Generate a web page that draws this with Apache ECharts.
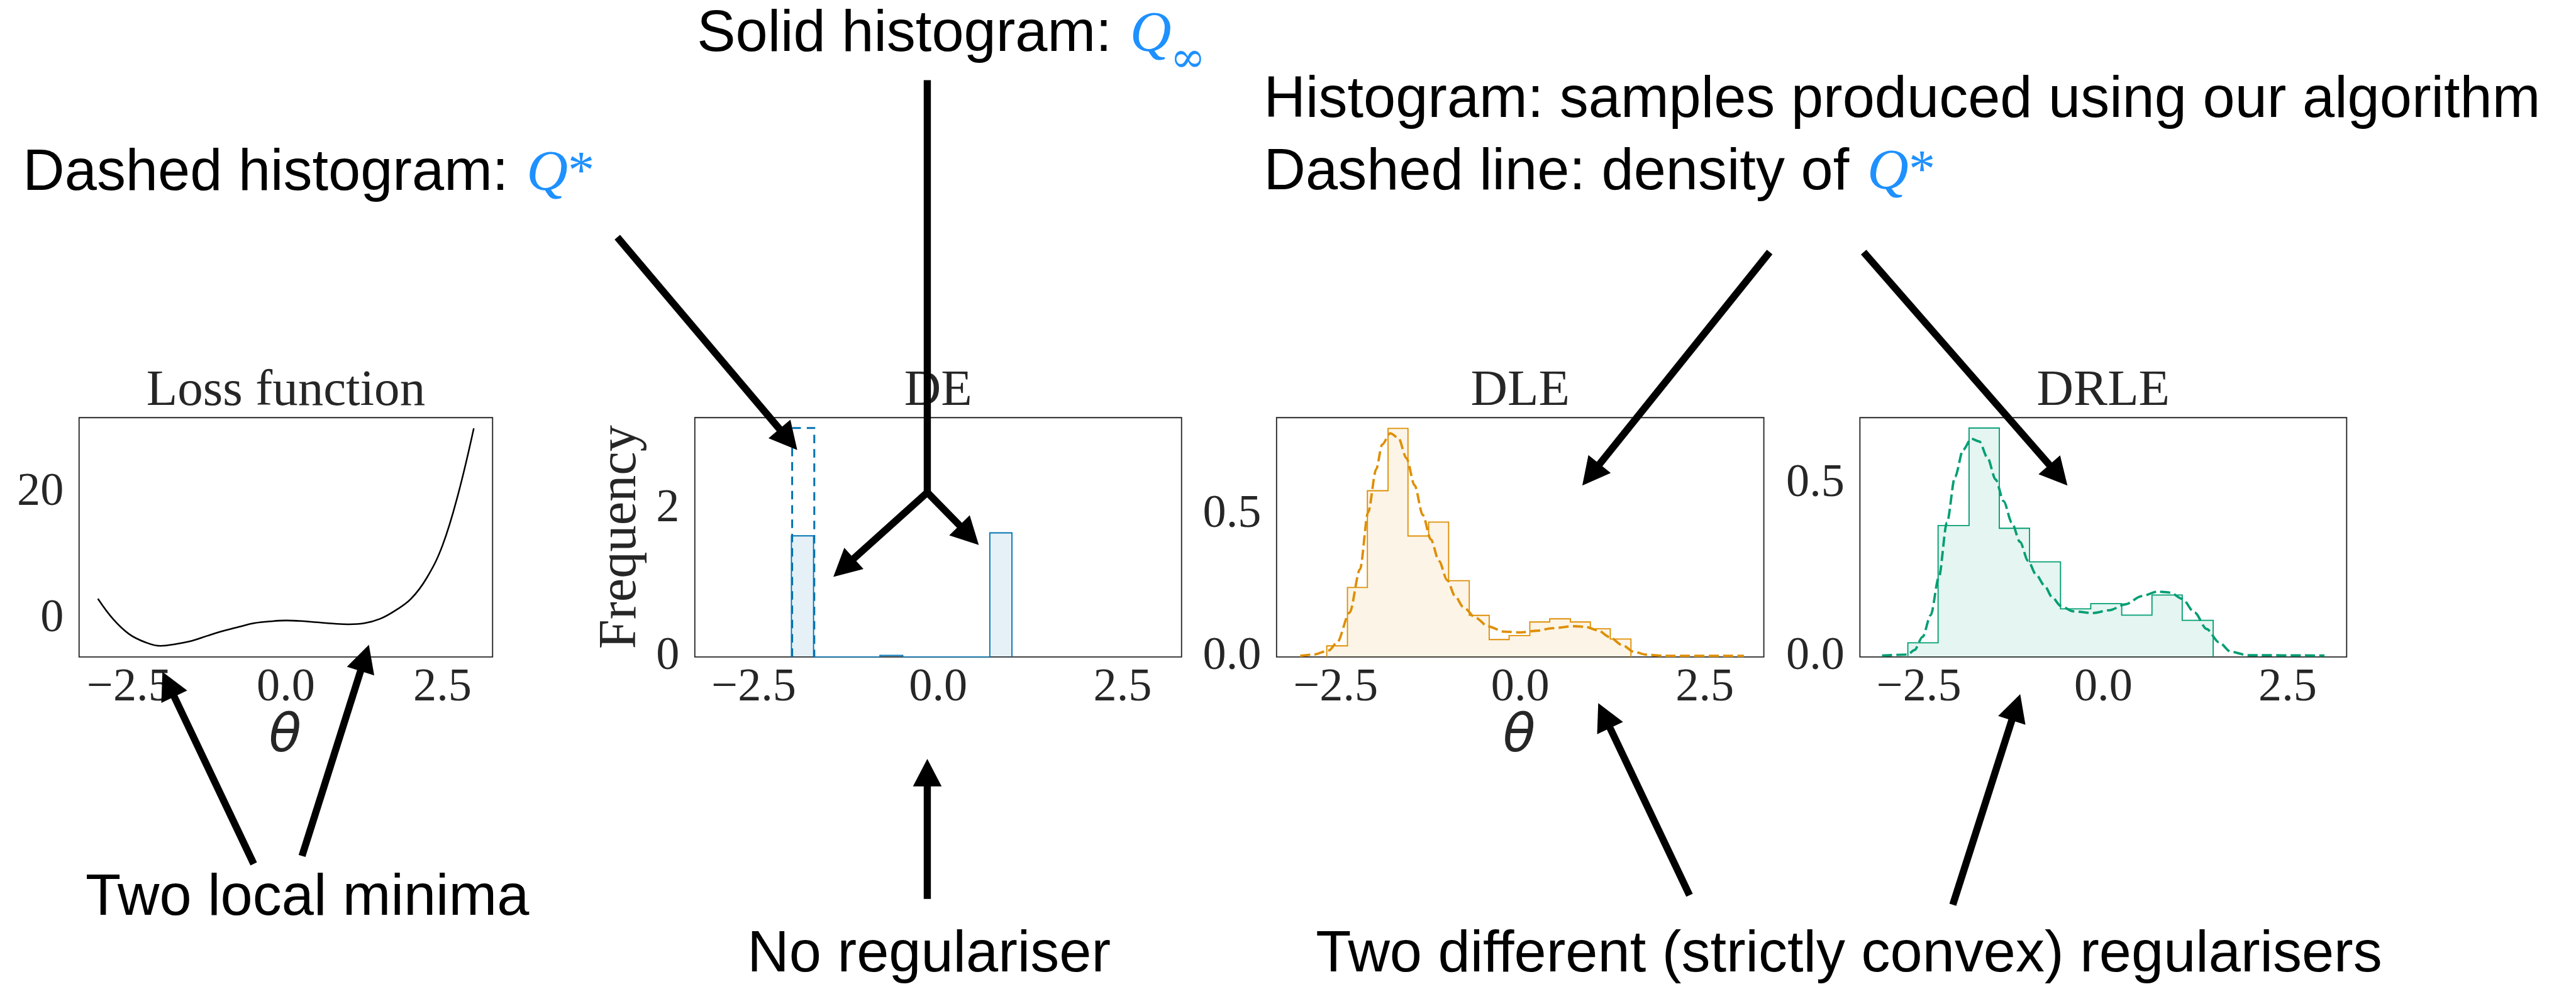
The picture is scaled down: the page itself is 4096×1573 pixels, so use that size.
<!DOCTYPE html>
<html>
<head>
<meta charset="utf-8">
<script src="https://cdn.jsdelivr.net/npm/echarts@6/dist/echarts.min.js"></script>
<style>
html, body { margin: 0; padding: 0; background: #fff; }
#chart { width: 4096px; height: 1573px; }
</style>
</head>
<body>
<div id="chart"></div>
<script>
// values
var xTicks = [-2.5, 0, 2.5];
var lossYTicks = [0, 20];
var deYTicks = [0, 2];
var densYTicks = [0, 0.5];

// loss function
var lossTheta = [-3, -2.75, -2.5, -2.25, -2, -1.75, -1.5, -1.25, -1, -0.75, -0.5, -0.25, 0,
                 0.25, 0.5, 0.75, 1, 1.25, 1.5, 1.75, 2, 2.25, 2.5, 2.75, 3];
var lossValues = [3.2, -0.1, -2.4, -3.65, -4.25, -3.95, -3.45, -2.65, -1.9, -1.25, -0.65, -0.38, -0.24,
                  -0.33, -0.53, -0.72, -0.84, -0.68, 0.0, 1.35, 3.2, 6.5, 11.6, 19.7, 30.1];

// DE: solid histogram (Q_inf) and dashed histogram (Q*)
var deEdges = [-1.99, -1.69, -1.39, -1.09, -0.79, -0.48, -0.19, 0.11, 0.41, 0.70, 1.00];
var deHeights = [1.64, 0, 0, 0, 0.02, 0, 0, 0, 0, 1.68];
var deStarEdges = [-1.98, -1.68];
var deStarHeights = [3.10];

// DLE
var dleEdges = [-2.62, -2.34, -2.07, -1.79, -1.52, -1.24, -0.97, -0.69, -0.42, -0.15, 0.13, 0.40, 0.68, 0.95, 1.22, 1.50];
var dleHeights = [0.039, 0.244, 0.584, 0.803, 0.425, 0.474, 0.268, 0.146, 0.061, 0.075, 0.123, 0.134, 0.123, 0.099, 0.063];
var dleDensX = [-2.98, -2.8, -2.59, -2.48, -2.31, -2.17, -2.06, -1.95, -1.87, -1.76, -1.65, -1.54, -1.43, -1.32, -1.21,
                -1.10, -0.99, -0.88, -0.77, -0.60, -0.44, -0.22, 0.0, 0.22, 0.44, 0.72, 0.88, 1.05, 1.21, 1.38,
                1.54, 1.71, 1.93, 3.03];
var dleDensY = [0.004, 0.008, 0.023, 0.051, 0.156, 0.308, 0.508, 0.660, 0.746, 0.786, 0.770, 0.698, 0.603, 0.499, 0.413,
                0.337, 0.270, 0.213, 0.175, 0.137, 0.108, 0.089, 0.086, 0.092, 0.101, 0.108, 0.106, 0.094, 0.070, 0.042,
                0.018, 0.008, 0.004, 0.004];

// DRLE
var drleEdges = [-2.65, -2.24, -1.82, -1.41, -1.00, -0.58, -0.17, 0.25, 0.66, 1.07, 1.49];
var drleHeights = [0.041, 0.380, 0.662, 0.372, 0.275, 0.139, 0.154, 0.121, 0.179, 0.106];
var drleDensX = [-3.0, -2.65, -2.56, -2.45, -2.34, -2.23, -2.12, -2.01, -1.90, -1.79, -1.68, -1.57, -1.46, -1.35, -1.24,
                 -1.13, -1.02, -0.91, -0.80, -0.69, -0.58, -0.41, -0.14, 0.08, 0.30, 0.52, 0.74, 0.91, 1.07, 1.24,
                 1.40, 1.57, 1.73, 1.96, 3.0];
var drleDensY = [0.004, 0.007, 0.020, 0.058, 0.121, 0.230, 0.388, 0.521, 0.599, 0.631, 0.623, 0.576, 0.513, 0.450, 0.388,
                 0.333, 0.278, 0.238, 0.207, 0.172, 0.148, 0.132, 0.127, 0.135, 0.152, 0.176, 0.189, 0.186, 0.168, 0.128,
                 0.081, 0.042, 0.015, 0.005, 0.004];

var S = 0.844; // reference px -> window px
var SERIF = '"Liberation Serif", "Times New Roman", serif';
var SANS = '"Liberation Sans", Arial, Helvetica, sans-serif';
var INK = '#262626';
var QBLUE = '#1e90ff';
var BLUE = '#0173b2', ORANGE = '#de8f05', GREEN = '#029e73';

function zip(xs, ys) {
  return xs.map(function (x, i) { return [x, ys[i]]; });
}
function stepPoints(edges, heights) {
  var pts = [[edges[0], 0]];
  for (var i = 0; i < heights.length; i++) {
    pts.push([edges[i], heights[i]]);
    pts.push([edges[i + 1], heights[i]]);
  }
  pts.push([edges[edges.length - 1], 0]);
  return pts;
}
function fmtX(v) {
  return v < 0 ? '\u2212' + Math.abs(v).toFixed(1) : v.toFixed(1);
}

// panel boxes, reference px
var boxes = [
  { left: 149, width: 779 },
  { left: 1309, width: 917 },
  { left: 2405, width: 918 },
  { left: 3504, width: 917 }
];
var grids = boxes.map(function (b) {
  return {
    left: b.left * S, top: 787 * S, width: b.width * S, height: 451 * S,
    show: true, borderColor: INK, borderWidth: 2.2 * S, backgroundColor: 'transparent',
    containLabel: false, outerBoundsMode: 'none'
  };
});

var xAxes = boxes.map(function (b, i) {
  return {
    type: 'value', gridIndex: i, min: -3.3, max: 3.3,
    axisLine: { show: false }, axisTick: { show: false }, splitLine: { show: false },
    axisLabel: {
      customValues: xTicks, formatter: fmtX, margin: 15 * S,
      fontFamily: SERIF, fontSize: 88 * S, color: INK
    }
  };
});

var yRanges = [[-6, 31.8], [0, 3.24], [0, 0.841], [0, 0.692]];
var yTickSets = [lossYTicks, deYTicks, densYTicks, densYTicks];
var yFmts = [
  function (v) { return String(v); },
  function (v) { return String(v); },
  function (v) { return v.toFixed(1); },
  function (v) { return v.toFixed(1); }
];
var yAxes = yRanges.map(function (r, i) {
  return {
    type: 'value', gridIndex: i, min: r[0], max: r[1],
    axisLine: { show: false }, axisTick: { show: false }, splitLine: { show: false },
    axisLabel: {
      customValues: yTickSets[i], formatter: yFmts[i], margin: 29 * S,
      fontFamily: SERIF, fontSize: 88 * S, color: INK
    }
  };
});

function lineSeries(idx, data, color, width, opts) {
  var s = {
    type: 'line', xAxisIndex: idx, yAxisIndex: idx, data: data,
    symbol: 'none', showSymbol: false, silent: true,
    lineStyle: { color: color, width: width, cap: 'butt', join: 'miter' }
  };
  for (var k in opts) s[k] = opts[k];
  return s;
}
function fillOf(hex) {
  var n = parseInt(hex.slice(1), 16);
  return 'rgba(' + (n >> 16) + ',' + ((n >> 8) & 255) + ',' + (n & 255) + ',0.1)';
}

var series = [
  lineSeries(0, zip(lossTheta, lossValues), '#000', 3 * S, { smooth: 0.4 }),

  lineSeries(1, stepPoints(deEdges, deHeights), BLUE, 2.2 * S, { areaStyle: { color: fillOf(BLUE), opacity: 1 } }),
  lineSeries(1, stepPoints(deStarEdges, deStarHeights), BLUE, 3.6 * S, {}),

  lineSeries(2, stepPoints(dleEdges, dleHeights), ORANGE, 2.2 * S, { areaStyle: { color: fillOf(ORANGE), opacity: 1 } }),
  lineSeries(2, zip(dleDensX, dleDensY), ORANGE, 4.5 * S, { smooth: 0.3, smoothMonotone: 'x' }),

  lineSeries(3, stepPoints(drleEdges, drleHeights), GREEN, 2.2 * S, { areaStyle: { color: fillOf(GREEN), opacity: 1 } }),
  lineSeries(3, zip(drleDensX, drleDensY), GREEN, 4.5 * S, { smooth: 0.3, smoothMonotone: 'x' })
];
series[2].lineStyle.type = [16 * S, 11 * S];
series[4].lineStyle.type = [19 * S, 8 * S];
series[6].lineStyle.type = [19 * S, 8 * S];

// ---- text and arrows, reference px ----
var ctx = document.createElement('canvas').getContext('2d');
function textWidth(str, size, family, style) {
  ctx.font = (style || 'normal') + ' ' + size + 'px ' + family;
  return ctx.measureText(str).width;
}
function txt(x, y, text, size, family, fill, extra) {
  var el = {
    type: 'text', x: x, y: y, z: 100, silent: true,
    style: { text: text, fontSize: size, fontFamily: family, fill: fill, align: 'left', verticalAlign: 'middle' }
  };
  if (extra) for (var k in extra) el.style[k] = extra[k];
  return el;
}

var graphics = [];

var titles = [['Loss function', 538.5], ['DE', 1767.5], ['DLE', 2864], ['DRLE', 3962.5]];
titles.forEach(function (t) {
  graphics.push(txt(t[1] * S, 738 * S, t[0], 96 * S, SERIF, INK, { align: 'center' }));
});
graphics.push(txt(537 * S, 1390 * S, '\u03b8', 100 * S, '"DejaVu Sans", sans-serif', INK, { align: 'center', fontStyle: 'italic' }));
graphics.push(txt(2862 * S, 1390 * S, '\u03b8', 100 * S, '"DejaVu Sans", sans-serif', INK, { align: 'center', fontStyle: 'italic' }));
var freq = txt(1170 * S, 1012 * S, 'Frequency', 100 * S, SERIF, INK, { align: 'center' });
freq.rotation = Math.PI / 2;
graphics.push(freq);

var notes = [
  { text: 'Solid histogram: ', x: 1313, base: 104, q: 'inf' },
  { text: 'Dashed histogram: ', x: 43, base: 366, q: 'star' },
  { text: 'Histogram: samples produced using our algorithm', x: 2381, base: 228 },
  { text: 'Dashed line: density of ', x: 2381, base: 364, q: 'star' },
  { text: 'Two local minima', x: 161, base: 1732 },
  { text: 'No regulariser', x: 1408, base: 1839 },
  { text: 'Two different (strictly convex) regularisers', x: 2479, base: 1839 }
];
var noteSize = 109 * S, qSize = 108 * S;
notes.forEach(function (n) {
  graphics.push(txt(n.x * S, (n.base - 38) * S, n.text, noteSize, SANS, '#000'));
  if (!n.q) return;
  var qx = n.x * S + textWidth(n.text, noteSize, SANS) + 4 * S;
  graphics.push(txt(qx, (n.base - 37) * S, 'Q', qSize, SERIF, QBLUE, { fontStyle: 'italic' }));
  var qw = textWidth('Q', qSize, SERIF, 'italic');
  if (n.q === 'star') {
    graphics.push(txt(qx + qw, (n.base - 38) * S, '*', 100 * S, SERIF, QBLUE));
  } else {
    graphics.push(txt(qx + qw - 2 * S, (n.base + 10) * S, '\u221e', 80 * S, '"DejaVu Serif", serif', QBLUE));
  }
});

var LW = 13.5 * S, HL = 52 * S, HW = 27 * S;
function seg(x1, y1, x2, y2) {
  return {
    type: 'line', z: 100, silent: true,
    shape: { x1: x1, y1: y1, x2: x2, y2: y2 },
    style: { stroke: '#000', lineWidth: LW, lineCap: 'butt' }
  };
}
function arrow(a, b, c, d) {
  var x1 = a * S, y1 = b * S, x2 = c * S, y2 = d * S;
  var dx = x2 - x1, dy = y2 - y1, len = Math.sqrt(dx * dx + dy * dy);
  var ux = dx / len, uy = dy / len, px = -uy, py = ux;
  var bx = x2 - ux * HL, by = y2 - uy * HL;
  graphics.push(seg(x1, y1, bx + ux * 2, by + uy * 2));
  graphics.push({
    type: 'polygon', z: 100, silent: true,
    shape: { points: [[x2, y2], [bx + px * HW, by + py * HW], [bx - px * HW, by - py * HW]] },
    style: { fill: '#000' }
  });
}

graphics.push(seg(1747 * S, 151 * S, 1747 * S, 930 * S));
arrow(1747, 928, 1570, 1087);
arrow(1747, 928, 1844, 1027);
arrow(1163, 447, 1502, 848);
arrow(3334, 475, 2981, 915);
arrow(3511, 475, 3895, 915);
arrow(478, 1628, 306, 1266);
arrow(569, 1613, 695, 1215);
arrow(1747, 1694, 1747, 1430);
arrow(3183, 1687, 3011, 1325);
arrow(3679, 1705, 3806, 1308);

var chart = echarts.init(document.getElementById('chart'));
chart.setOption({
  animation: false,
  backgroundColor: '#fff',
  grid: grids,
  xAxis: xAxes,
  yAxis: yAxes,
  series: series,
  graphic: graphics
});
</script>
</body>
</html>
